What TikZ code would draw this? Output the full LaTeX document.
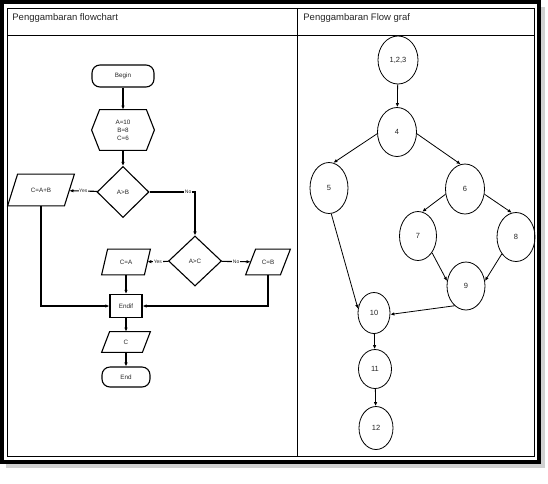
\documentclass[tikz,border=0pt]{standalone}
\usepackage{fontspec}
\setmainfont{Liberation Sans}
\usetikzlibrary{shapes.geometric,arrows.meta,calc}
\begin{document}
\begin{tikzpicture}[x=1pt,y=-1pt,
  line width=0.8pt,
  arr/.style={-{Latex[length=4pt,width=3.5pt]}},
  fl/.style={line width=1.1pt},
  fc/.style={font=\fontsize{6.3}{7}\selectfont, inner sep=0pt, align=center, text=black!85},
  term/.style={fc, draw, fl, rounded corners=8pt, minimum width=#1, minimum height=22pt},
  box/.style={fc, draw, line width=1.3pt, minimum width=32pt, minimum height=23pt},
  dec/.style={fc, draw, fl, diamond, aspect=1, minimum width=52pt, minimum height=51pt},
  plain/.style={fc},
  lbl/.style={font=\fontsize{5}{6}\selectfont, fill=white, inner sep=0.6pt, text=black!85},
  gn/.style={draw, ellipse, inner sep=0pt, font=\fontsize{7.5}{9}\selectfont, text=black!85},
  head/.style={anchor=west, font=\fontsize{9.5}{11}\selectfont, text=black!85, inner sep=0pt}
]
\useasboundingbox (0,0) rectangle (548,483);
% frame and shadow
\fill[black!18] (6,7) rectangle (545,468);
\draw[line width=4pt, fill=white] (2,2) rectangle (539,462);
\draw (7,8) rectangle (534,456);
\draw (7,35) -- (534,35);
\draw (297,8) -- (297,456);
\node[head] (h1) at (12,18) {Penggambaran flowchart};
\node[head] (h2) at (303,18) {Penggambaran Flow graf};

% ---------- flowchart ----------
\node[term=62pt] (begin) at (123,76) {Begin};
\node[plain, minimum width=62pt, minimum height=40pt] (hex) at (123,130) {A=10\\[1pt]B=8\\[1pt]C=6};
\draw[fl] (hex.west) -- ([xshift=8pt]hex.north west) -- ([xshift=-8pt]hex.north east) -- (hex.east)
      -- ([xshift=-8pt]hex.south east) -- ([xshift=8pt]hex.south west) -- cycle;
\node[dec] (d1) at (123,192) {A>B};
\node[plain, minimum width=56pt, minimum height=31pt] (pab) at (41,190) {C=A+B};
\draw[fl] ([xshift=-5pt]pab.south west) -- ([xshift=-5pt]pab.south east) -- ([xshift=5pt]pab.north east) -- ([xshift=5pt]pab.north west) -- cycle;
\node[dec, minimum width=53pt, minimum height=50pt] (d2) at (195,261) {A>C};
\node[plain, minimum width=42pt, minimum height=25pt] (pca) at (126,262) {C=A};
\draw[fl] ([xshift=-3pt]pca.south west) -- ([xshift=-3pt]pca.south east) -- ([xshift=3pt]pca.north east) -- ([xshift=3pt]pca.north west) -- cycle;
\node[plain, minimum width=34pt, minimum height=25pt] (pcb) at (268,262) {C=B};
\draw[fl] ([xshift=-5pt]pcb.south west) -- ([xshift=-5pt]pcb.south east) -- ([xshift=5pt]pcb.north east) -- ([xshift=5pt]pcb.north west) -- cycle;
\node[box] (endif) at (126,306) {Endif};
\node[plain, minimum width=40pt, minimum height=20pt] (pc) at (126,342) {C};
\draw[fl] ([xshift=-4pt]pc.south west) -- ([xshift=-4pt]pc.south east) -- ([xshift=4pt]pc.north east) -- ([xshift=4pt]pc.north west) -- cycle;
\node[term=48pt, minimum height=20pt] (endn) at (126,377) {End};

\draw[arr,fl] (begin) -- (hex);
\draw[arr,fl] (hex) -- (d1);
\draw[arr,fl] (d1) -- node[lbl]{Yes} (pab);
\draw[arr,fl] (d1.east) -- node[lbl,pos=0.85]{No} (d1.east -| d2.north) -- (d2.north);
\draw[arr,fl] (d2) -- node[lbl]{Yes} (pca);
\draw[arr,fl] (d2) -- node[lbl]{No} (pcb);
\draw[arr,fl] (pca) -- (endif);
\draw[arr,fl] (pab.south) |- (endif.west);
\draw[arr,fl] (pcb.south) |- (endif.east);
\draw[arr,fl] (endif) -- (pc);
\draw[arr,fl] (pc) -- (endn);

% ---------- flow graph ----------
\node[gn, minimum width=40pt, minimum height=48pt] (n123) at (398,60) {1,2,3};
\node[gn, minimum width=39pt, minimum height=49pt] (n4) at (397,132) {4};
\node[gn, minimum width=38pt, minimum height=51pt] (n5) at (329,188) {5};
\node[gn, minimum width=39pt, minimum height=50pt] (n6) at (465,189) {6};
\node[gn, minimum width=37pt, minimum height=49pt] (n7) at (418,236) {7};
\node[gn, minimum width=38pt, minimum height=49pt] (n8) at (516,237) {8};
\node[gn, minimum width=38pt, minimum height=48pt] (n9) at (466,286) {9};
\node[gn, minimum width=32pt, minimum height=41pt] (n10) at (374,313) {10};
\node[gn, minimum width=33pt, minimum height=39pt] (n11) at (375,369) {11};
\node[gn, minimum width=34pt, minimum height=43pt] (n12) at (376,428) {12};

\draw[arr] (n123) -- (n4);
\draw[arr] (n4.185) -- (n5.80);
\draw[arr] (n4.355) -- (n6.100);
\draw[arr] (n6.195) -- (n7.80);
\draw[arr] (n6.345) -- (n8.100);
\draw[arr] (n7.310) -- (n9.165);
\draw[arr] (n8.230) -- (n9.15);
\draw[arr] (n5.275) -- (n10.165);
\draw[arr] (n9.240) -- (n10.355);
\draw[arr] (n10) -- (n11);
\draw[arr] (n11) -- (n12);
\end{tikzpicture}
\end{document}
